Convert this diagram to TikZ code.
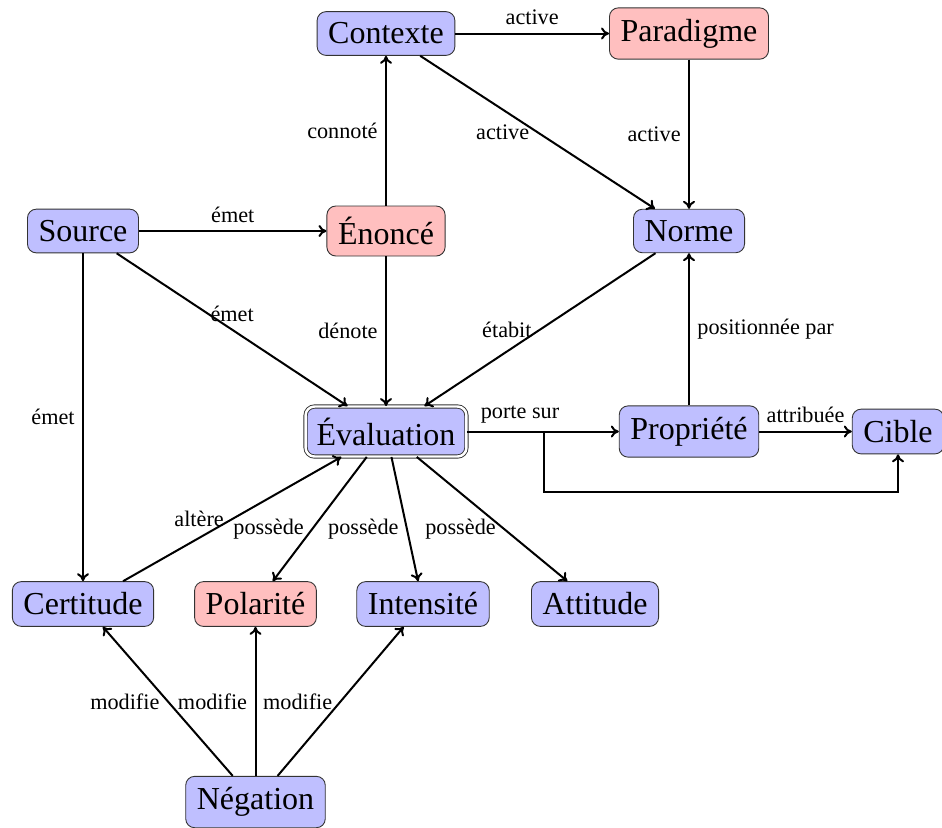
\documentclass[tikz,border=0pt]{standalone}
\usepackage{fontspec}
\setmainfont{Liberation Serif}
\usetikzlibrary{arrows.meta}
\begin{document}
\begin{tikzpicture}[x=0.45pt,y=-0.45pt,
  every node/.style={font=\normalsize},
  concept/.style={draw=black!80, rounded corners=4pt, fill=blue!25, font=\Large, inner sep=5pt},
  redconcept/.style={concept, fill=red!25},
  evalbox/.style={concept, double, double distance=1.1pt},
  link/.style={-{To[length=3.6pt,width=5.4pt]}, line width=0.9pt}]
\useasboundingbox (0,0) rectangle (942,827);
\node[concept] (ctx) at (386,33.5) {Contexte};
\node[redconcept] (par) at (689,33.5) {Paradigme};
\node[concept] (src) at (83,231) {Source};
\node[redconcept] (eno) at (386,231) {Énoncé};
\node[concept] (nor) at (689,231) {Norme};
\node[evalbox] (eva) at (386,431.5) {Évaluation};
\node[concept] (pro) at (689,431.5) {Propriété};
\node[concept] (cib) at (898,431.5) {Cible};
\node[concept] (cer) at (83,604) {Certitude};
\node[redconcept] (pol) at (255.5,604) {Polarité};
\node[concept] (int) at (423,604) {Intensité};
\node[concept] (att) at (595,604) {Attitude};
\node[concept] (neg) at (255.5,802) {Négation};
\coordinate (branch) at (544,431.5);
\coordinate (bend) at (544,492);

\draw[link] (ctx) -- node[above] {active} (par);
\draw[link] (ctx) -- node[left] {active} (nor);
\draw[link] (par) -- node[left] {active} (nor);
\draw[link] (eno) -- node[left] {connoté} (ctx);
\draw[link] (src) -- node[above] {émet} (eno);
\draw[link] (src) -- node[above] {émet} (eva);
\draw[link] (src) -- node[left] {émet} (cer);
\draw[link] (eno) -- node[left] {dénote} (eva);
\draw[link] (nor) -- node[left] {étabit} (eva);
\draw[link] (eva) -- node[above, pos=0.35] {porte sur} (pro);
\draw[link] (branch) -- (bend) -| (cib);
\draw[link] (pro) -- node[above] {attribuée} (cib);
\draw[link] (pro) -- node[right] {positionnée par} (nor);
\draw[link] (cer) -- node[left] {altère} (eva);
\draw[link] (eva) -- node[left, pos=0.58] {possède} (pol);
\draw[link] (eva) -- node[left, pos=0.58] {possède} (int);
\draw[link] (eva) -- node[left, pos=0.58] {possède} (att);
\draw[link] (neg) -- node[left] {modifie} (cer);
\draw[link] (neg) -- node[left] {modifie} (pol);
\draw[link] (neg) -- node[left] {modifie} (int);
\end{tikzpicture}
\end{document}
